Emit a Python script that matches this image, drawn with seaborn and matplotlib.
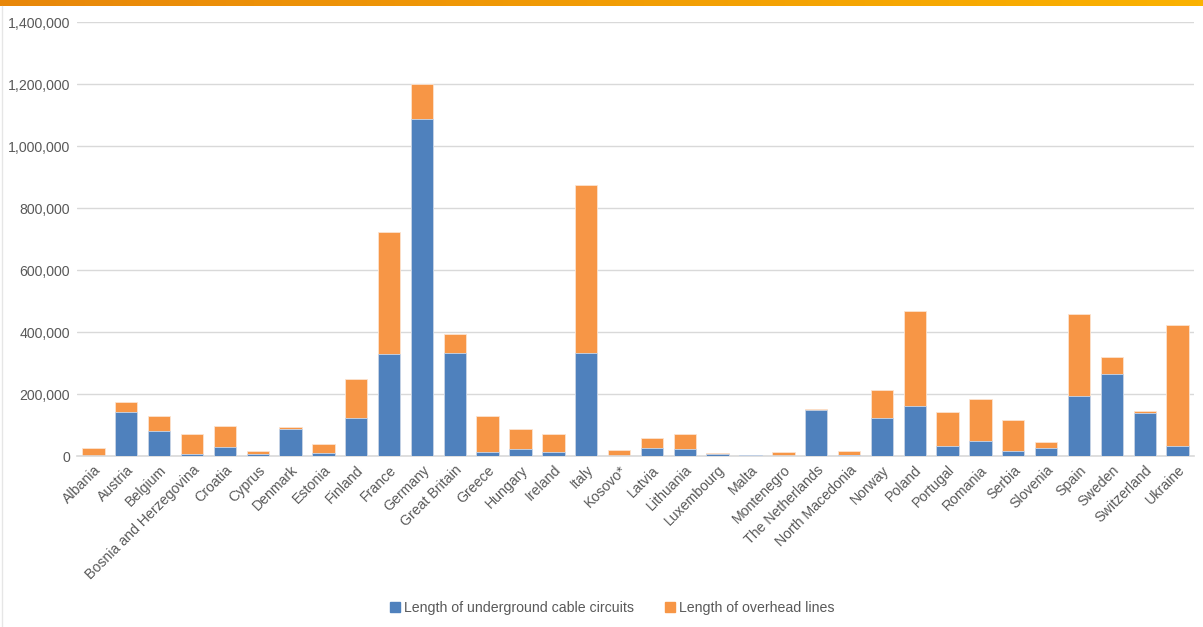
import numpy as np
import matplotlib
matplotlib.use('Agg')
import matplotlib.pyplot as plt
from matplotlib.patches import Patch
from matplotlib.ticker import FuncFormatter
import seaborn as sns

countries = ['Albania', 'Austria', 'Belgium', 'Bosnia and Herzegovina', 'Croatia', 'Cyprus',
             'Denmark', 'Estonia', 'Finland', 'France', 'Germany', 'Great Britain', 'Greece',
             'Hungary', 'Ireland', 'Italy', 'Kosovo*', 'Latvia', 'Lithuania', 'Luxembourg',
             'Malta', 'Montenegro', 'The Netherlands', 'North Macedonia', 'Norway', 'Poland',
             'Portugal', 'Romania', 'Serbia', 'Slovenia', 'Spain', 'Sweden', 'Switzerland',
             'Ukraine']

# values in km
underground = [1000, 143000, 81000, 7000, 30000, 7000, 88000, 11000, 124000, 330000,
               1088000, 333000, 14000, 24000, 13000, 331000, 1000, 27000, 24000, 7000,
               2000, 1000, 148000, 2000, 124000, 162000, 33000, 49000, 17000, 26000,
               195000, 266000, 138000, 33000]
overhead = [24000, 31000, 49000, 64000, 67000, 10000, 4000, 28000, 124000, 391000,
            113000, 60000, 115000, 63000, 59000, 542000, 18000, 30000, 47000, 2000,
            1000, 12000, 4000, 15000, 89000, 306000, 109000, 135000, 99000, 19000,
            262000, 52000, 7000, 390000]

blue = '#4F81BD'
orange = '#F79646'
grey = '#595959'

total = np.array(underground) + np.array(overhead)

sns.set_style('white')
plt.rcParams['font.family'] = ['Liberation Sans', 'DejaVu Sans']

fig = plt.figure(figsize=(12.03, 6.27), dpi=100)
ax = fig.add_axes([77 / 1203, 171 / 627, 1117 / 1203, 434 / 627])

sns.barplot(x=countries, y=total, color=orange, saturation=1, width=0.68,
            edgecolor='#FCE3CF', linewidth=0.6, ax=ax, zorder=2)
sns.barplot(x=countries, y=underground, color=blue, saturation=1, width=0.68,
            edgecolor='#C9D7EA', linewidth=0.6, ax=ax, zorder=3)

ax.set_ylim(0, 1400000)
ax.set_yticks(np.arange(0, 1400001, 200000))
ax.yaxis.set_major_formatter(FuncFormatter(lambda v, p: f'{int(v):,}'))
ax.grid(axis='y', color='#D9D9D9', linewidth=1, zorder=0)
ax.set_axisbelow(True)
for s in ['top', 'right', 'left']:
    ax.spines[s].set_visible(False)
ax.spines['bottom'].set_color('#D9D9D9')
ax.spines['bottom'].set_linewidth(1.2)
ax.tick_params(axis='both', length=0, colors=grey, labelsize=10.2)
ax.tick_params(axis='y', pad=5)
ax.tick_params(axis='x', pad=5)
ax.set_xlim(-0.5, len(countries) - 0.5)
plt.setp(ax.get_xticklabels(), rotation=45, ha='right', rotation_mode='anchor')
ax.set_xlabel('')
ax.set_ylabel('')

handles = [Patch(color=blue, label='Length of underground cable circuits'),
           Patch(color=orange, label='Length of overhead lines')]
fig.legend(handles=handles, loc='center', bbox_to_anchor=(0.509, 19 / 627), ncol=2,
           frameon=False, fontsize=10.2, labelcolor=grey, handlelength=0.7,
           handleheight=0.7, handletextpad=0.3, columnspacing=2.2)

# orange banner strip on top
top = fig.add_axes([0, 1 - 6 / 627, 1, 6 / 627])
grad = np.linspace(0, 1, 256).reshape(1, -1)
cmap = matplotlib.colors.LinearSegmentedColormap.from_list('band', ['#E8870A', '#FBB200'])
top.imshow(grad, aspect='auto', cmap=cmap)
top.axis('off')

# light frame on the left edge
fig.add_artist(plt.Line2D([2 / 1203, 2 / 1203], [0, 1 - 6 / 627], color='#E6E6E6', linewidth=1))

plt.savefig('out.png', dpi=100)
